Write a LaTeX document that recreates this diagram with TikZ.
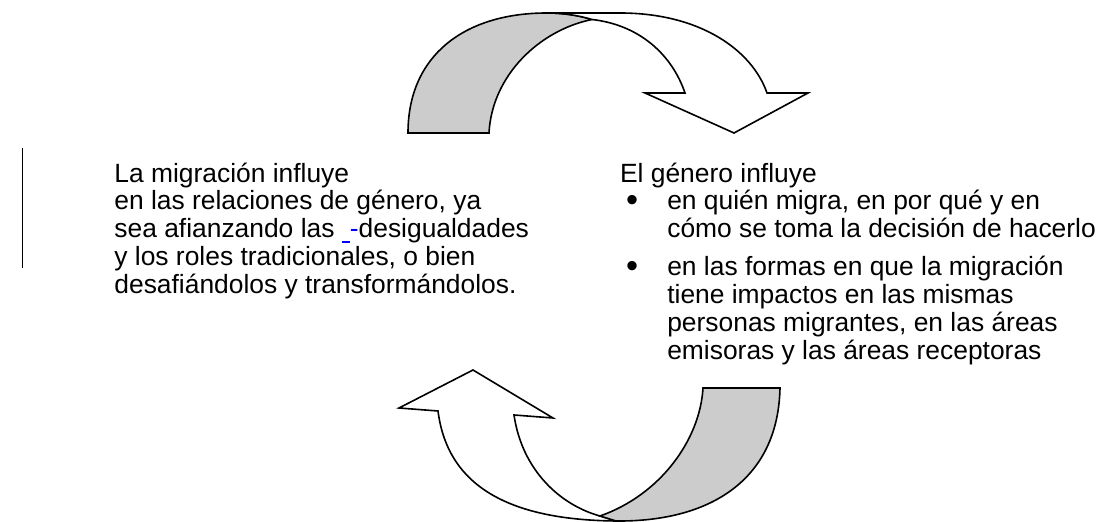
\documentclass[tikz,border=0pt]{standalone}
\usepackage{fontspec}
\setmainfont{Liberation Sans}
\usepackage{graphicx}
\usepackage{tikz}
\usetikzlibrary{positioning}
\definecolor{bandgray}{RGB}{204,204,204}
\newcommand{\bulletmark}{\makebox[23.6pt][l]{\hspace{3pt}\raisebox{-0.85pt}{\scalebox{1.3}{\textbullet}}}}
\newcommand{\bulletpad}{\hspace*{23.6pt}}

\begin{document}
\begin{tikzpicture}[x=0.5pt, y=-0.5pt,
	band/.style={draw=black, line width=0.8pt, fill=bandgray},
	face/.style={draw=black, line width=0.8pt, fill=white},
	txt/.style={anchor=north west, inner sep=0pt, align=left, font=\fontsize{13.2}{13.9}\selectfont}]
\useasboundingbox (0,0) rectangle (1103,522);
\path[band] (408,133) .. controls (408,55) and (465,13) .. (547,13)
	.. controls (562,13) and (577,15) .. (592,19.5)
	.. controls (540,30) and (492,75) .. (489,133) -- cycle;
\path[face] (592,19.5) .. controls (577,15) and (562,13) .. (547,13) -- (620,13)
	.. controls (700,13) and (752,50) .. (767,93) -- (808,93) -- (734,133) -- (645,93) -- (685,93)
	.. controls (672,55) and (640,25) .. (592,19.5) -- cycle;
\path[face] (399,408) -- (473,370) -- (553,418) -- (514,415)
	.. controls (522,470) and (560,505) .. (600,516) -- (616,521)
	.. controls (515,520) and (448,490) .. (438,411) -- cycle;
\path[band] (703,388) -- (780,388) .. controls (778,480) and (710,522) .. (616,521) -- (600,516)
	.. controls (660,495) and (700,440) .. (703,388) -- cycle;
\node[txt] (migracion) at (114,156.7) {\rule{0pt}{12.5pt}La migración influye\\
	en las relaciones de género, ya\\
	sea afianzando las \textcolor{blue}{\rule[-2.6pt]{4pt}{0.7pt}-}desigualdades\\
	y los roles tradicionales, o bien\\
	desafiándolos y transformándolos.};
\node[txt] (genero) at (619.7,156.7) {\rule{0pt}{12.5pt}El género influye\\
	\bulletmark en quién migra, en por qué y en\\
	\bulletpad cómo se toma la decisión de hacerlo\\[5.15pt]
	\bulletmark en las formas en que la migración\\
	\bulletpad tiene impactos en las mismas\\
	\bulletpad personas migrantes, en las áreas\\
	\bulletpad emisoras y las áreas receptoras};
\coordinate (bartop) at (22,148);
\coordinate (barbot) at (22,268);
\draw[line width=0.5pt] (bartop) -- (barbot);
\end{tikzpicture}
\end{document}
